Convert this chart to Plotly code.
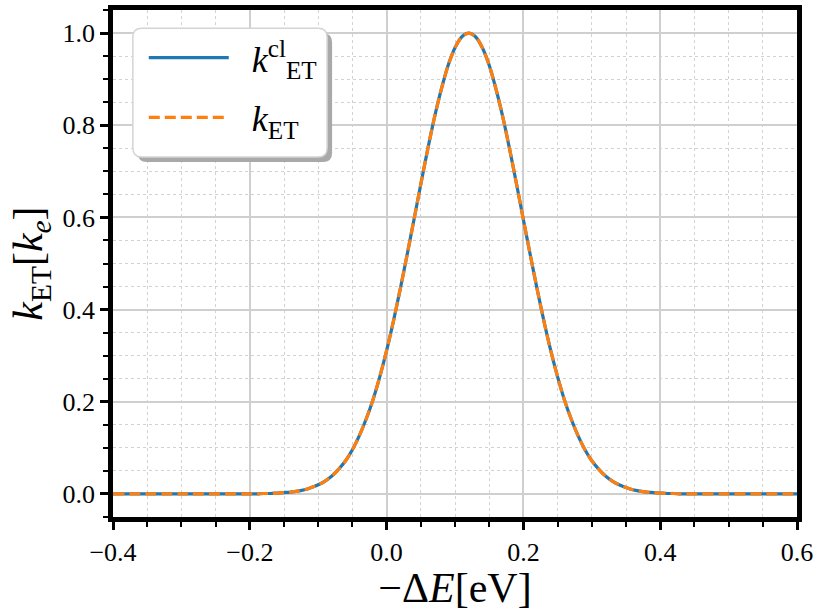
import plotly.graph_objects as go

# -Delta E [eV]
energy = [-0.40, -0.30, -0.20, -0.19, -0.18, -0.17, -0.16, -0.15, -0.14, -0.13, -0.12, -0.11,
          -0.10, -0.09, -0.08, -0.07, -0.06, -0.05, -0.04, -0.03, -0.02, -0.01,
          0.00, 0.01, 0.02, 0.03, 0.04, 0.05, 0.06, 0.07, 0.08, 0.09, 0.10, 0.11,
          0.12, 0.13, 0.14, 0.15, 0.16, 0.17, 0.18, 0.19, 0.20, 0.21, 0.22, 0.23,
          0.24, 0.25, 0.26, 0.27, 0.28, 0.29, 0.30, 0.31, 0.32, 0.33, 0.34, 0.35,
          0.36, 0.37, 0.38, 0.39, 0.40, 0.41, 0.42, 0.43, 0.44, 0.50, 0.60]
# classical rate k_ET^cl [k_e]
k_cl = [0.000, 0.000, 0.000, 0.000, 0.001, 0.001, 0.002, 0.003, 0.004, 0.006, 0.009, 0.014,
        0.020, 0.028, 0.039, 0.054, 0.072, 0.096, 0.126, 0.162, 0.204, 0.254,
        0.311, 0.375, 0.445, 0.519, 0.595, 0.672, 0.747, 0.817, 0.878, 0.930, 0.968, 0.992,
        1.000, 0.992, 0.968, 0.930, 0.878, 0.817, 0.747, 0.672, 0.595, 0.519, 0.445, 0.375,
        0.311, 0.254, 0.204, 0.162, 0.126, 0.096, 0.072, 0.054, 0.039, 0.028, 0.020, 0.014,
        0.009, 0.006, 0.004, 0.003, 0.002, 0.001, 0.001, 0.000, 0.000, 0.000, 0.000]
# rate k_ET [k_e]
k_q = [0.000, 0.000, 0.000, 0.000, 0.001, 0.001, 0.002, 0.003, 0.004, 0.006, 0.009, 0.014,
       0.020, 0.028, 0.039, 0.054, 0.072, 0.096, 0.126, 0.162, 0.204, 0.254,
       0.311, 0.375, 0.445, 0.519, 0.595, 0.672, 0.747, 0.817, 0.878, 0.930, 0.968, 0.992,
       1.000, 0.992, 0.968, 0.930, 0.878, 0.817, 0.747, 0.672, 0.595, 0.519, 0.445, 0.375,
       0.311, 0.254, 0.204, 0.162, 0.126, 0.096, 0.072, 0.054, 0.039, 0.028, 0.020, 0.014,
       0.009, 0.006, 0.004, 0.003, 0.002, 0.001, 0.001, 0.000, 0.000, 0.000, 0.000]

x_ticks = [-0.4, -0.2, 0.0, 0.2, 0.4, 0.6]
x_labels = ["\u22120.4", "\u22120.2", "0.0", "0.2", "0.4", "0.6"]
y_ticks = [0.0, 0.2, 0.4, 0.6, 0.8, 1.0]
y_labels = ["0.0", "0.2", "0.4", "0.6", "0.8", "1.0"]

FONT = "Liberation Serif"
GAP = "\u2002"

fig = go.Figure()
fig.add_trace(go.Scatter(
    x=energy, y=k_cl, mode="lines", name=GAP + "<i>k</i><sup>cl</sup><sub>ET</sub>",
    line=dict(color="#1f77b4", width=3.2, shape="spline", smoothing=0.8),
    legendgroup="a"))
fig.add_trace(go.Scatter(
    x=energy, y=k_q, mode="lines", name=GAP + "<i>k</i><sub>ET</sub>",
    line=dict(color="#ff7f0e", width=3.2, dash="11px,5px", shape="spline", smoothing=0.8),
    legendgroup="b"))

# legend box with shadow (rounded)
def rrect(x0, y0, x1, y1, rx, ry):
    return (f"M {x0+rx},{y0} L {x1-rx},{y0} Q {x1},{y0} {x1},{y0+ry} "
            f"L {x1},{y1-ry} Q {x1},{y1} {x1-rx},{y1} L {x0+rx},{y1} Q {x0},{y1} {x0},{y1-ry} "
            f"L {x0},{y0+ry} Q {x0},{y0} {x0+rx},{y0} Z")

bx0, bx1, by0, by1 = 0.029, 0.313, 0.710, 0.964
rx, ry = 9 / 684, 9 / 507
dx, dy = 5 / 684, 5 / 507
fig.add_shape(type="path", xref="paper", yref="paper",
              path=rrect(bx0 + dx, by0 - dy, bx1 + dx, by1 - dy, rx, ry),
              fillcolor="#a9a9a9", line=dict(width=0), layer="above")
fig.add_shape(type="path", xref="paper", yref="paper",
              path=rrect(bx0, by0, bx1, by1, rx, ry),
              fillcolor="white", line=dict(color="#d4d4d4", width=1.5), layer="above")

axis_common = dict(
    showline=True, linecolor="black", linewidth=4.5, mirror=True,
    ticks="outside", ticklen=8, tickwidth=3, tickcolor="black",
    showgrid=True, gridcolor="#cfcfcf", gridwidth=1.5,
    zeroline=False, automargin=False,
    tickfont=dict(family=FONT, size=26, color="black"),
)

fig.update_xaxes(
    range=[-0.4, 0.6], tickvals=x_ticks, ticktext=x_labels,
    minor=dict(dtick=0.05, ticks="outside", ticklen=5, tickwidth=2, tickcolor="black",
               showgrid=True, gridcolor="#d2d2d2", gridwidth=1, griddash="dot"),
    title=dict(text="\u2212\u0394<i>E</i>[eV]", font=dict(family=FONT, size=42, color="black"),
               standoff=1),
    **axis_common)
fig.update_yaxes(
    range=[-0.05, 1.05], tickvals=y_ticks, ticktext=y_labels,
    minor=dict(dtick=0.05, ticks="outside", ticklen=5, tickwidth=2, tickcolor="black",
               showgrid=True, gridcolor="#d2d2d2", gridwidth=1, griddash="dot"),
    title=dict(text="<i>k</i><sub>ET</sub>[<i>k</i><sub><i>e</i></sub>]",
               font=dict(family=FONT, size=42, color="black"), standoff=8),
    **axis_common)

fig.update_layout(
    width=815, height=611,
    margin=dict(l=113, r=18, t=10, b=94),
    paper_bgcolor="white", plot_bgcolor="white",
    showlegend=True,
    legend=dict(x=0.045, y=0.965, xanchor="left", yanchor="top",
                bgcolor="rgba(0,0,0,0)", borderwidth=0,
                font=dict(family=FONT, size=36, color="black"),
                tracegroupgap=10, itemwidth=80),
)

fig.write_html("out.html")
